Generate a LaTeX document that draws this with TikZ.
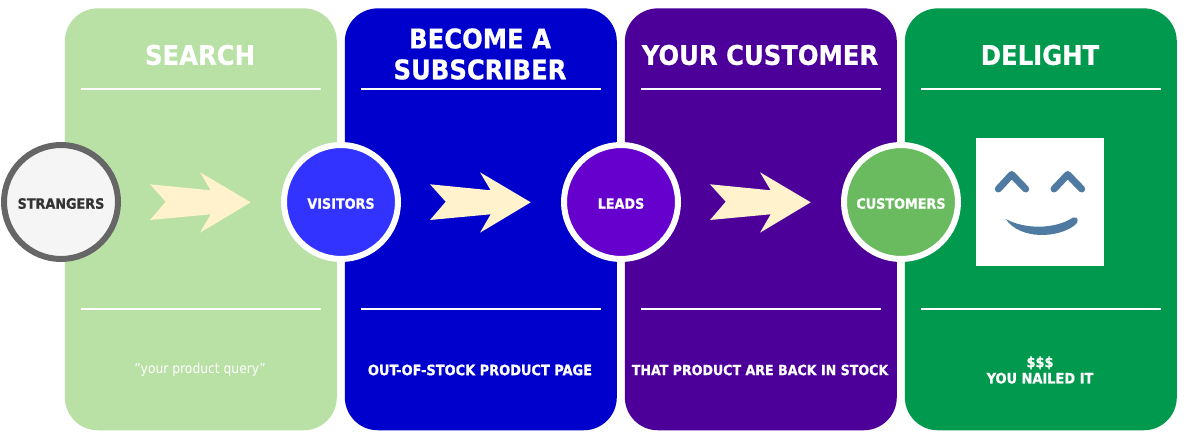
\documentclass[tikz,border=0pt]{standalone}
\usepackage{xcolor}
\usepackage{fontspec}
\setmainfont[BoldFeatures={FakeBold=0.7}]{DejaVu Sans Condensed}
\usepackage{tikz}
\usetikzlibrary{positioning}

\definecolor{searchgreen}{HTML}{B9E0A5}
\definecolor{subblue}{HTML}{0000CC}
\definecolor{custpurple}{HTML}{4C0099}
\definecolor{delightgreen}{HTML}{00994D}
\definecolor{arrowcream}{HTML}{FFF2CC}
\definecolor{smileblue}{HTML}{4F7BA3}
\definecolor{visitorblue}{HTML}{3333FF}
\definecolor{leadviolet}{HTML}{6600CC}
\definecolor{custgreen}{HTML}{6ABB5F}

\tikzset{
  panel/.style={anchor=north west, minimum width=5.44cm, minimum height=8.44cm, rounded corners=0.66cm, inner sep=0pt},
  heading/.style={text=white, font=\bfseries\fontsize{15.4}{17.6}\selectfont, align=center},
  caption/.style={text=white, font=\bfseries\fontsize{8.2}{9.2}\selectfont, align=center},
  stage/.style={circle, minimum size=2.28cm, inner sep=0pt, line width=0.12cm, draw=white, text=white, text height=0.27cm, text depth=0pt, font=\bfseries\fontsize{8.1}{9}\selectfont},
  divider/.style={white, line width=0.04cm},
  eyeline/.style={smileblue, line width=0.14cm, line cap=round, line join=round},
}
\newcommand{\fatarrow}[1]{%
  \fill[arrowcream, shift={(#1,0)}] (150,184.3) -- (210.7,190.3) -- (200,172.3) -- (250.7,202.3) -- (200,232.7) -- (210.7,214.3) -- (150,220) -- (165.7,201.7) -- cycle;}

\begin{document}
\begin{tikzpicture}[x=0.02cm, y=-0.02cm]
\useasboundingbox (0,0) rectangle (1184,438);
% panels
\node[panel, fill=searchgreen] (search) at (64.5,8) {};
\node[panel, fill=subblue] (subscriber) at (344.5,8) {};
\node[panel, fill=custpurple] (customer) at (624.5,8) {};
\node[panel, fill=delightgreen] (delight) at (904.5,8) {};
% headings
\node[heading] (searchtitle) at (200,55) {SEARCH};
\node[heading] (subtitle) at (480,54) {BECOME A\\SUBSCRIBER};
\node[heading] (custtitle) at (760,55) {YOUR CUSTOMER};
\node[heading] (delighttitle) at (1040,55) {DELIGHT};
% dividers
\draw[divider] (81,89.5) -- (321,89.5);
\draw[divider] (361,89.5) -- (601,89.5);
\draw[divider] (641,89.5) -- (881,89.5);
\draw[divider] (921,89.5) -- (1161,89.5);
\draw[divider] (81,309.5) -- (321,309.5);
\draw[divider] (361,309.5) -- (601,309.5);
\draw[divider] (641,309.5) -- (881,309.5);
\draw[divider] (921,309.5) -- (1161,309.5);
% arrows
\fatarrow{0}
\fatarrow{280}
\fatarrow{560}
% circles
\node[stage, fill=white!96!black, draw=black!60, text=black!80] (strangers) at (61,202) {STRANGERS};
\node[stage, fill=visitorblue] (visitors) at (341,202) {VISITORS};
\node[stage, fill=leadviolet] (leads) at (621,202) {LEADS};
\node[stage, fill=custgreen] (customers) at (901,202) {CUSTOMERS};
% smiley
\node[anchor=north west, fill=white, minimum size=2.56cm, inner sep=0pt] (face) at (976,138) {};
\draw[eyeline] (998.3,189) -- (1011.7,174.5) -- (1025.7,189);
\draw[eyeline] (1054,189) -- (1067.7,174.5) -- (1081.7,189);
\fill[smileblue] (1005.7,219) .. controls (1025,229.5) and (1055,229.5) .. (1073,217.5) .. controls (1078,216) and (1079.5,222) .. (1075,225) .. controls (1058,238.5) and (1020,240) .. (1005.7,219) -- cycle;
% captions
\node[caption, font=\fontsize{7.8}{9.2}\selectfont] (searchtext) at (200,370) {\symbol{34}your product query\symbol{34}};
\node[caption] (subtext) at (480,370) {OUT-OF-STOCK PRODUCT PAGE};
\node[caption, font=\bfseries\fontsize{8}{9.2}\selectfont] (custtext) at (760,370) {THAT PRODUCT ARE BACK IN STOCK};
\node[caption] (delighttext) at (1040,370) {\$\$\$\\YOU NAILED IT};
\end{tikzpicture}
\end{document}
